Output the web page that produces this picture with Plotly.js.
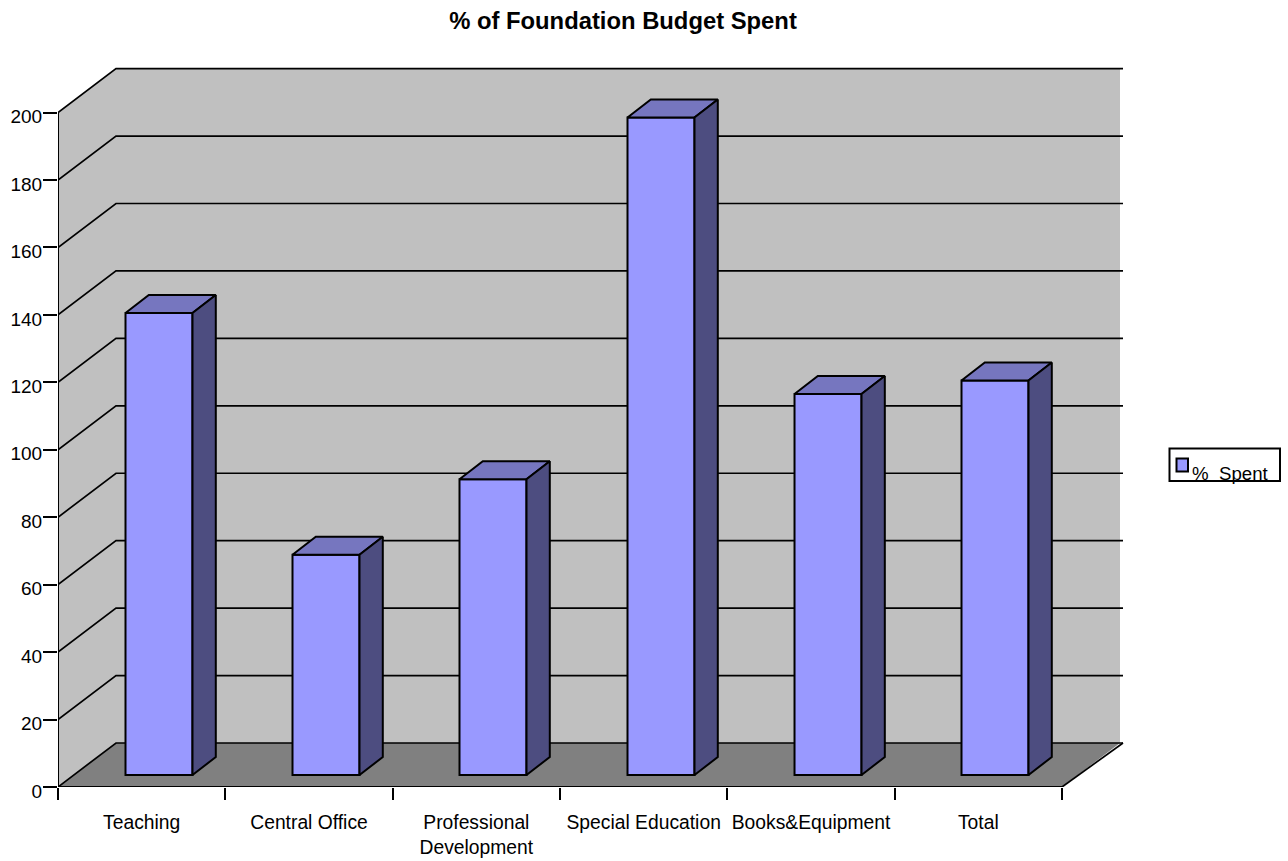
<!DOCTYPE html>
<html>
<head>
<meta charset="utf-8">
<script src="https://cdn.plot.ly/plotly-3.0.1.min.js"></script>
<style>html,body{margin:0;padding:0;background:#fff}</style>
</head>
<body>
<div id="chart" style="width:1288px;height:861px"></div>
<script>
const categories = ["Teaching", "Central Office", "Professional<br>Development", "Special Education", "Books&Equipment", "Total"];
const seriesName = "%\u00A0\u00A0Spent";
const spent = [137, 65.3, 87.7, 195, 113, 117];
const yTicks = [0, 20, 40, 60, 80, 100, 120, 140, 160, 180, 200];
const xBoundaries = [0, 1, 2, 3, 4, 5, 6];
const barCentres = [0.6036, 1.6016, 2.5996, 3.6036, 4.6017, 5.5996];

const W = 1288, H = 861, L = 58, R = 1126, T = 66, B = 787;
const pxPerX = 1004 / 6, pxPerY = 674.4 / 200;
const xMax = (R - L) / pxPerX, yMax = (B - T) / pxPerY;
const depthX = 58 / pxPerX, depthY = 44 / pxPerY;
const wallEnd = 6 + depthX, gridEnd = 6 + depthX + 3 / pxPerX;
const barBase = 12 / pxPerY, barW = 67 / pxPerX;
const barDX = 23.3 / pxPerX, barDY = 18 / pxPerY;

const poly = pts => "M" + pts.map(p => p[0] + "," + p[1]).join("L") + "Z";
const gridLine = { color: "#000", width: 1.7 };
const px = v => (v - L) / (R - L), py = v => (B - v) / (B - T);
const shapes = [
  { type: "path", xref: "x", yref: "y", layer: "below", line: { width: 0 }, fillcolor: "#C0C0C0",
    path: poly([[0, 0], [depthX, depthY], [wallEnd, depthY], [wallEnd, 200 + depthY], [depthX, 200 + depthY], [0, 200]]) },
  { type: "path", xref: "x", yref: "y", layer: "below", line: { width: 0 }, fillcolor: "#808080",
    path: poly([[0, 0], [6, 0], [wallEnd, depthY], [depthX, depthY]]) },
  { type: "line", xref: "x", yref: "y", layer: "below", line: gridLine, x0: 6, y0: 0, x1: gridEnd, y1: depthY },
  // legend frame and swatch
  { type: "rect", xref: "paper", yref: "paper", x0: px(1169.5), x1: px(1280), y0: py(448.5), y1: py(481), line: { color: "#000", width: 2 }, fillcolor: "#fff" },
  { type: "rect", xref: "paper", yref: "paper", x0: px(1176.5), x1: px(1188), y0: py(458.5), y1: py(471.5), line: { color: "#000", width: 2 }, fillcolor: "#9999FF" }
];
yTicks.forEach(v => {
  shapes.push({ type: "path", xref: "x", yref: "y", layer: "below", line: gridLine,
    path: "M0," + v + "L" + depthX + "," + (v + depthY) + "L" + gridEnd + "," + (v + depthY) });
});

const topX = [], topY = [], sideX = [], sideY = [];
spent.forEach((v, i) => {
  const a = barCentres[i] - barW / 2, b = barCentres[i] + barW / 2;
  const t = v + barBase;
  topX.push(a, b, b + barDX, a + barDX, a, null);
  topY.push(t, t, t + barDY, t + barDY, t, null);
  sideX.push(b, b + barDX, b + barDX, b, b, null);
  sideY.push(barBase, barBase + barDY, t + barDY, t, barBase, null);
});

const edge = { color: "#000", width: 2 };
const traces = [
  { type: "bar", name: seriesName, x: barCentres, y: spent, base: barBase, width: barW,
    marker: { color: "#9999FF", line: edge }, showlegend: false, hoverinfo: "y" },
  { type: "scatter", mode: "lines", x: topX, y: topY, fill: "toself", fillcolor: "#7676BF",
    line: edge, showlegend: false, hoverinfo: "skip" },
  { type: "scatter", mode: "lines", x: sideX, y: sideY, fill: "toself", fillcolor: "#4D4D80",
    line: edge, showlegend: false, hoverinfo: "skip" },
  { type: "scatter", mode: "lines", x: [0, 0, 6], y: [200, 0, 0], cliponaxis: false,
    line: edge, showlegend: false, hoverinfo: "skip" },
  { type: "scatter", mode: "none", xaxis: "x2", x: categories, y: spent, showlegend: false, hoverinfo: "skip" }
];

const family = "Liberation Sans, Arial, sans-serif";
const tickFont = { family: family, size: 19.3, color: "#000" };
const layout = {
  width: W, height: H,
  margin: { l: L, r: W - R, t: T, b: H - B, pad: 0, autoexpand: false },
  paper_bgcolor: "#fff", plot_bgcolor: "rgba(0,0,0,0)",
  font: tickFont,
  title: { text: "<b>% of Foundation Budget Spent</b>", x: 623 / W, xanchor: "center", xref: "container",
    y: 1 - 21 / H, yanchor: "middle", font: { family: family, size: 23.8, color: "#000" } },
  showlegend: false,
  annotations: [
    { xref: "paper", yref: "paper", x: px(1190), y: py(473), xanchor: "left", yanchor: "middle", showarrow: false,
      text: seriesName, font: { family: family, size: 18.67, color: "#000" } }
  ],
  xaxis: { type: "linear", range: [0, xMax], tickmode: "array", tickvals: xBoundaries, ticktext: xBoundaries.map(() => ""),
    ticks: "outside", ticklen: 12, tickwidth: 2, tickcolor: "#000", showgrid: false, zeroline: false, showline: false, fixedrange: true },
  xaxis2: { type: "category", overlaying: "x", anchor: "y", side: "bottom", range: [-0.5, xMax - 0.5],
    categoryorder: "array", categoryarray: categories, ticks: "", ticklen: 0, showgrid: false, zeroline: false, showline: false,
    ticklabelstandoff: 22, tickfont: tickFont, tickangle: 0, fixedrange: true },
  yaxis: { range: [0, yMax], tickmode: "array", tickvals: yTicks, ticks: "outside", ticklen: 14, tickwidth: 2, tickcolor: "#000",
    showgrid: false, zeroline: false, showline: false, tickfont: { family: family, size: 19, color: "#000" },
    ticklabelshift: 4, ticklabelstandoff: -3, fixedrange: true },
  shapes: shapes
};
Plotly.newPlot("chart", traces, layout, { displayModeBar: false, responsive: false });
</script>
</body>
</html>
